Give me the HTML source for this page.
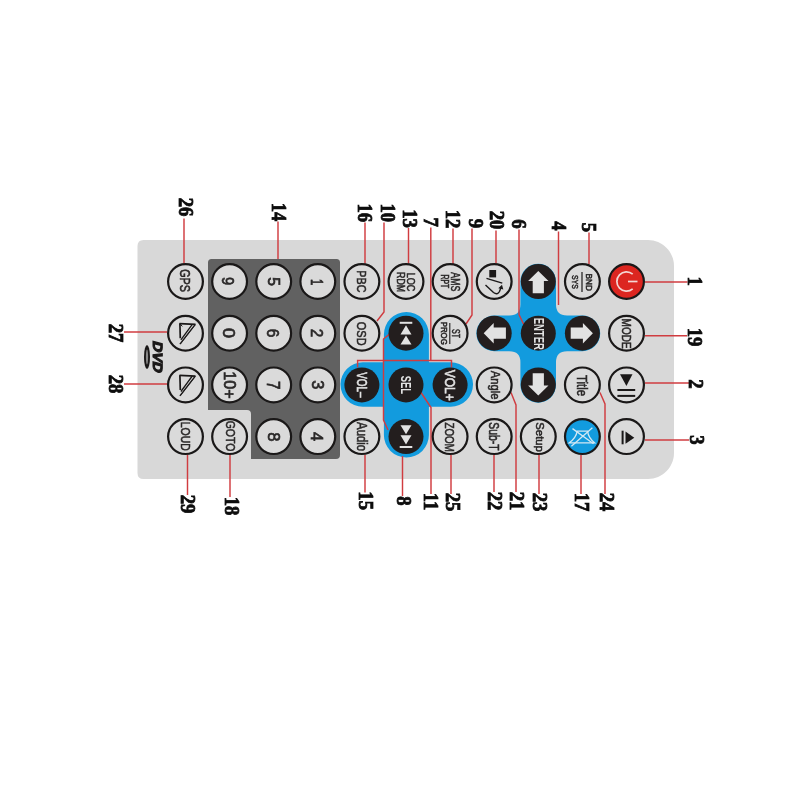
<!DOCTYPE html>
<html><head><meta charset="utf-8"><style>
html,body{margin:0;padding:0;background:#fff;width:800px;height:800px;overflow:hidden}
svg{display:block;will-change:transform}
</style></head><body>
<svg width="800" height="800" viewBox="0 0 800 800">
<path d="M143.5,240 L648,240 C662.3,240 674,251.7 674,266 L674,453 C674,467.3 662.3,479 648,479 L143.5,479 Q137.5,479 137.5,473 L137.5,246 Q137.5,240 143.5,240 Z" fill="#d8d8d8"/>
<path d="M211.5,259 L336.5,259 Q340,259 340,262.5 L340,455 Q340,459 336,459 L251,459 L251,414 Q251,410 247,410 L208,410 L208,262.5 Q208,259 211.5,259 Z" fill="#616161"/>
<path d="M383.9,334.5 A22.5,22.5 0 0 1 428.9,334.5 L428.9,362.25 L450.75,362.25 A22.25,22.25 0 0 1 450.75,406.75 L428.9,406.75 L428.9,435 A22.5,22.5 0 0 1 383.9,435 L383.9,406.75 L362.75,406.75 A22.25,22.25 0 0 1 362.75,362.25 L383.9,362.25 Z" fill="#129bde"/>
<path d="M520.4000000000001,281.5 A17.8,17.8 0 0 1 556.0,281.5 L556.0,304.59999999999997 Q556.0,315.59999999999997 567.0,315.59999999999997 L582.4000000000001,315.59999999999997 A17.8,17.8 0 0 1 582.4000000000001,351.2 L567.0,351.2 Q556.0,351.2 556.0,362.2 L556.0,384.9 A17.8,17.8 0 0 1 520.4000000000001,384.9 L520.4000000000001,362.2 Q520.4000000000001,351.2 509.4000000000001,351.2 L494.2,351.2 A17.8,17.8 0 0 1 494.2,315.59999999999997 L509.4000000000001,315.59999999999997 Q520.4000000000001,315.59999999999997 520.4000000000001,304.59999999999997 Z" fill="#129bde"/>
<path d="M184,218.5 L184,263.5" fill="none" stroke="#d03c40" stroke-width="1.45"/>
<path d="M278,221.5 L278,259" fill="none" stroke="#d03c40" stroke-width="1.45"/>
<path d="M365,222.5 L365,263.5" fill="none" stroke="#d03c40" stroke-width="1.45"/>
<path d="M384,222.5 L384,312 L377,321" fill="none" stroke="#d03c40" stroke-width="1.45"/>
<path d="M408.5,228 L408.5,263.5" fill="none" stroke="#d03c40" stroke-width="1.45"/>
<path d="M430.8,227.5 L430.8,360.5" fill="none" stroke="#d03c40" stroke-width="1.45"/>
<path d="M357.6,367.5 L357.6,360.5 L451.5,360.5 L451.5,367.5" fill="none" stroke="#d03c40" stroke-width="1.45"/>
<path d="M453,228.5 L453,264" fill="none" stroke="#d03c40" stroke-width="1.45"/>
<path d="M472,228.5 L472,315 L466,324" fill="none" stroke="#d03c40" stroke-width="1.45"/>
<path d="M496,230.5 L496,263.5" fill="none" stroke="#d03c40" stroke-width="1.45"/>
<path d="M519,229.5 L519,314.5 L524,325" fill="none" stroke="#d03c40" stroke-width="1.45"/>
<path d="M558.5,231.5 L558.5,305" fill="none" stroke="#d03c40" stroke-width="1.45"/>
<path d="M589,232.5 L589,264" fill="none" stroke="#d03c40" stroke-width="1.45"/>
<path d="M187.5,454.5 L187.5,495" fill="none" stroke="#d03c40" stroke-width="1.45"/>
<path d="M230,454 L230,497" fill="none" stroke="#d03c40" stroke-width="1.45"/>
<path d="M365,455 L365,492.5" fill="none" stroke="#d03c40" stroke-width="1.45"/>
<path d="M402.5,456 L402.5,496" fill="none" stroke="#d03c40" stroke-width="1.45"/>
<path d="M421,392.5 L431,407.5 L431,494" fill="none" stroke="#d03c40" stroke-width="1.45"/>
<path d="M451,455 L451,494" fill="none" stroke="#d03c40" stroke-width="1.45"/>
<path d="M494,455 L494,492" fill="none" stroke="#d03c40" stroke-width="1.45"/>
<path d="M511,392.5 L516,405 L516,492" fill="none" stroke="#d03c40" stroke-width="1.45"/>
<path d="M539,455 L539,494" fill="none" stroke="#d03c40" stroke-width="1.45"/>
<path d="M581,455 L581,494" fill="none" stroke="#d03c40" stroke-width="1.45"/>
<path d="M600,392.5 L605,404 L605,494" fill="none" stroke="#d03c40" stroke-width="1.45"/>
<path d="M124,332 L167,332" fill="none" stroke="#d03c40" stroke-width="1.45"/>
<path d="M124,384 L167,384" fill="none" stroke="#d03c40" stroke-width="1.45"/>
<path d="M645,282 L687.5,282" fill="none" stroke="#d03c40" stroke-width="1.45"/>
<path d="M645,335.75 L687,335.75" fill="none" stroke="#d03c40" stroke-width="1.45"/>
<path d="M645,383 L689,383" fill="none" stroke="#d03c40" stroke-width="1.45"/>
<path d="M645,440 L689,440" fill="none" stroke="#d03c40" stroke-width="1.45"/>
<path d="M390.3,333.4 L383.5,339 L383.5,420 L388,430" fill="none" stroke="#d03c40" stroke-width="1.45"/>
<circle cx="185.50" cy="281.50" r="17.4" fill="#dadada" stroke="#1a1818" stroke-width="2.2"/>
<circle cx="185.50" cy="333.20" r="17.4" fill="#dadada" stroke="#1a1818" stroke-width="2.2"/>
<circle cx="185.50" cy="384.90" r="17.4" fill="#dadada" stroke="#1a1818" stroke-width="2.2"/>
<circle cx="185.50" cy="436.60" r="17.4" fill="#dadada" stroke="#1a1818" stroke-width="2.2"/>
<circle cx="229.60" cy="281.50" r="17.4" fill="#dadada" stroke="#1a1818" stroke-width="2.2"/>
<circle cx="273.70" cy="281.50" r="17.4" fill="#dadada" stroke="#1a1818" stroke-width="2.2"/>
<circle cx="317.80" cy="281.50" r="17.4" fill="#dadada" stroke="#1a1818" stroke-width="2.2"/>
<circle cx="229.60" cy="333.20" r="17.4" fill="#dadada" stroke="#1a1818" stroke-width="2.2"/>
<circle cx="273.70" cy="333.20" r="17.4" fill="#dadada" stroke="#1a1818" stroke-width="2.2"/>
<circle cx="317.80" cy="333.20" r="17.4" fill="#dadada" stroke="#1a1818" stroke-width="2.2"/>
<circle cx="229.60" cy="384.90" r="17.4" fill="#dadada" stroke="#1a1818" stroke-width="2.2"/>
<circle cx="273.70" cy="384.90" r="17.4" fill="#dadada" stroke="#1a1818" stroke-width="2.2"/>
<circle cx="317.80" cy="384.90" r="17.4" fill="#dadada" stroke="#1a1818" stroke-width="2.2"/>
<circle cx="229.60" cy="436.60" r="17.4" fill="#dadada" stroke="#1a1818" stroke-width="2.2"/>
<circle cx="273.70" cy="436.60" r="17.4" fill="#dadada" stroke="#1a1818" stroke-width="2.2"/>
<circle cx="317.80" cy="436.60" r="17.4" fill="#dadada" stroke="#1a1818" stroke-width="2.2"/>
<circle cx="361.90" cy="281.50" r="17.4" fill="#dadada" stroke="#1a1818" stroke-width="2.2"/>
<circle cx="361.90" cy="333.20" r="17.4" fill="#dadada" stroke="#1a1818" stroke-width="2.2"/>
<circle cx="361.90" cy="436.60" r="17.4" fill="#dadada" stroke="#1a1818" stroke-width="2.2"/>
<circle cx="406.00" cy="281.50" r="17.4" fill="#dadada" stroke="#1a1818" stroke-width="2.2"/>
<circle cx="450.10" cy="281.50" r="17.4" fill="#dadada" stroke="#1a1818" stroke-width="2.2"/>
<circle cx="450.10" cy="333.20" r="17.4" fill="#dadada" stroke="#1a1818" stroke-width="2.2"/>
<circle cx="450.10" cy="436.60" r="17.4" fill="#dadada" stroke="#1a1818" stroke-width="2.2"/>
<circle cx="494.20" cy="281.50" r="17.4" fill="#dadada" stroke="#1a1818" stroke-width="2.2"/>
<circle cx="494.20" cy="384.90" r="17.4" fill="#dadada" stroke="#1a1818" stroke-width="2.2"/>
<circle cx="494.20" cy="436.60" r="17.4" fill="#dadada" stroke="#1a1818" stroke-width="2.2"/>
<circle cx="538.30" cy="436.60" r="17.4" fill="#dadada" stroke="#1a1818" stroke-width="2.2"/>
<circle cx="582.40" cy="281.50" r="17.4" fill="#dadada" stroke="#1a1818" stroke-width="2.2"/>
<circle cx="582.40" cy="384.90" r="17.4" fill="#dadada" stroke="#1a1818" stroke-width="2.2"/>
<circle cx="626.50" cy="333.20" r="17.4" fill="#dadada" stroke="#1a1818" stroke-width="2.2"/>
<circle cx="626.50" cy="384.90" r="17.4" fill="#dadada" stroke="#1a1818" stroke-width="2.2"/>
<circle cx="626.50" cy="436.60" r="17.4" fill="#dadada" stroke="#1a1818" stroke-width="2.2"/>
<circle cx="582.40" cy="436.60" r="17.4" fill="#129bde" stroke="#1a1818" stroke-width="2.2"/>
<circle cx="626.50" cy="281.50" r="17.4" fill="#dc2620" stroke="#1a1818" stroke-width="2.2"/>
<circle cx="406.00" cy="333.20" r="17.5" fill="#231e1e"/>
<circle cx="406.00" cy="384.90" r="17.5" fill="#231e1e"/>
<circle cx="406.00" cy="436.60" r="17.5" fill="#231e1e"/>
<circle cx="361.90" cy="384.90" r="17.5" fill="#231e1e"/>
<circle cx="450.10" cy="384.90" r="17.5" fill="#231e1e"/>
<circle cx="494.20" cy="333.20" r="17.5" fill="#231e1e"/>
<circle cx="538.30" cy="281.50" r="17.5" fill="#231e1e"/>
<circle cx="538.30" cy="333.20" r="17.5" fill="#231e1e"/>
<circle cx="538.30" cy="384.90" r="17.5" fill="#231e1e"/>
<circle cx="582.40" cy="333.20" r="17.5" fill="#231e1e"/>
<line x1="449.8" y1="323" x2="449.8" y2="344" stroke="#1a1818" stroke-width="1.1"/>
<line x1="582" y1="272" x2="582" y2="292" stroke="#1a1818" stroke-width="1.2"/>
<path d="M179.5,323.59999999999997 L195.5,324.4" stroke="#1a1818" stroke-width="1.7" fill="none"/>
<path d="M179.9,323.59999999999997 L180.3,338.2" stroke="#1a1818" stroke-width="1.7" fill="none"/>
<path d="M195.1,324.59999999999997 L179.9,344.2 M192.3,324.3 L180.9,339.8" stroke="#1a1818" stroke-width="1.35" fill="none"/>
<path d="M195.5,324.4 L180.5,344.0" stroke="#1a1818" stroke-width="0.6" fill="none"/>
<path d="M179.9,323.59999999999997 L182.3,326.4" stroke="#1a1818" stroke-width="1" fill="none"/>
<path d="M179.5,375.29999999999995 L195.5,376.09999999999997" stroke="#1a1818" stroke-width="1.7" fill="none"/>
<path d="M179.9,375.29999999999995 L180.3,389.9" stroke="#1a1818" stroke-width="1.7" fill="none"/>
<path d="M195.1,376.29999999999995 L179.9,395.9 M192.3,376.0 L180.9,391.5" stroke="#1a1818" stroke-width="1.35" fill="none"/>
<path d="M195.5,376.09999999999997 L180.5,395.7" stroke="#1a1818" stroke-width="0.6" fill="none"/>
<rect x="489.3" y="270" width="6.8" height="7.4" fill="#1a1818"/>
<path d="M486.5,278.4 L502.3,283.2" stroke="#1a1818" stroke-width="1.4"/>
<path d="M485.5,285 L493.5,292.5 Q497.5,295.5 499.5,291.5 L501,287.5" fill="none" stroke="#1a1818" stroke-width="1.4"/>
<path d="M498.3,288.2 L502,284.8 L503.3,289.6 Z" fill="#1a1818"/>
<path transform="translate(538.30,281.50) rotate(0)" d="M0,-10.5 L10.2,-0.5 L5.6,-0.5 L5.6,11.7 L-5.6,11.7 L-5.6,-0.5 L-10.2,-0.5 Z" fill="#e2e2e2"/>
<path transform="translate(538.30,384.90) rotate(180)" d="M0,-10.5 L10.2,-0.5 L5.6,-0.5 L5.6,11.7 L-5.6,11.7 L-5.6,-0.5 L-10.2,-0.5 Z" fill="#e2e2e2"/>
<path transform="translate(494.20,333.20) rotate(-90)" d="M0,-10.5 L10.2,-0.5 L5.6,-0.5 L5.6,11.7 L-5.6,11.7 L-5.6,-0.5 L-10.2,-0.5 Z" fill="#e2e2e2"/>
<path transform="translate(582.40,333.20) rotate(90)" d="M0,-10.5 L10.2,-0.5 L5.6,-0.5 L5.6,11.7 L-5.6,11.7 L-5.6,-0.5 L-10.2,-0.5 Z" fill="#e2e2e2"/>
<rect x="399.7" y="321.8" width="12.6" height="2" fill="#e2e2e2"/>
<path d="M406.0,325.2 L411.5,334.5 L400.5,334.5 Z M406.0,335.59999999999997 L411.5,344.5 L400.5,344.5 Z" fill="#e2e2e2"/>
<rect x="399.7" y="446.0" width="12.6" height="2" fill="#e2e2e2"/>
<path d="M406.0,444.6 L411.5,435.3 L400.5,435.3 Z M406.0,434.20000000000005 L411.5,425.3 L400.5,425.3 Z" fill="#e2e2e2"/>
<path d="M632.7,274.2 A9.6,9.6 0 1 0 632.7,288.8" fill="none" stroke="#f4d6d3" stroke-width="1.7"/>
<path d="M628.0,281.5 L637.5,281.5" stroke="#f4d6d3" stroke-width="1.7"/>
<path d="M620,374.3 L632.5,374.3 L626.4,385.9 Z" fill="#1a1818"/>
<rect x="617.4" y="389" width="17.8" height="2" fill="#1a1818"/><rect x="617.4" y="394.9" width="17.8" height="2" fill="#1a1818"/>
<path d="M625.5,431.4 L634.3,437.7 L625.5,443.8 Z" fill="#1a1818"/>
<rect x="621.6" y="430.7" width="2" height="13.6" fill="#1a1818"/>
<g stroke="#d2e8f3" stroke-width="1.3" fill="none"><path d="M572.5,428.6 L593.5,443.8 M592.4,427.8 L571.4,446.2"/><path d="M577.2,431.2 L587.5,431.2 Q588.5,438 594.5,442.8 L569.3,442.8 Q576,438 577.2,431.2 Z"/></g>
<text transform="translate(157.2,357.2) rotate(90) scale(1.1,1) skewX(-14)" text-anchor="middle" dominant-baseline="central" font-family="Liberation Sans" font-weight="bold" font-size="13.5" fill="#1a1818" stroke="#1a1818" stroke-width="1.1">DVD</text>
<ellipse cx="147" cy="357" rx="3" ry="12" fill="#1a1818"/>
<ellipse cx="147" cy="357" rx="1.1" ry="7.5" fill="#8a8a8a"/>
<text transform="translate(184.70,280.61) rotate(90) scale(0.752,1)" text-anchor="middle" dominant-baseline="central" font-family="Liberation Sans" font-size="14.46" font-weight="normal" fill="#2a2828" stroke="#2a2828" stroke-width="0.55">GPS</text>
<text transform="translate(185.05,436.26) rotate(90) scale(0.806,1)" text-anchor="middle" dominant-baseline="central" font-family="Liberation Sans" font-size="13.08" font-weight="normal" fill="#2a2828" stroke="#2a2828" stroke-width="0.55">LOUD</text>
<text transform="translate(228.81,281.03) rotate(90) scale(0.844,1)" text-anchor="middle" dominant-baseline="central" font-family="Liberation Sans" font-size="17.41" font-weight="normal" fill="#2a2828" stroke="#2a2828" stroke-width="0.7">9</text>
<text transform="translate(273.88,281.75) rotate(90) scale(0.920,1)" text-anchor="middle" dominant-baseline="central" font-family="Liberation Sans" font-size="17.16" font-weight="normal" fill="#2a2828" stroke="#2a2828" stroke-width="0.7">5</text>
<text transform="translate(317.36,282.20) rotate(90) scale(0.662,1)" text-anchor="middle" dominant-baseline="central" font-family="Liberation Sans" font-size="16.94" font-weight="normal" fill="#2a2828" stroke="#2a2828" stroke-width="0.7">1</text>
<text transform="translate(228.81,333.16) rotate(90) scale(1.042,1)" text-anchor="middle" dominant-baseline="central" font-family="Liberation Sans" font-size="17.41" font-weight="normal" fill="#2a2828" stroke="#2a2828" stroke-width="0.7">0</text>
<text transform="translate(273.08,332.88) rotate(90) scale(0.890,1)" text-anchor="middle" dominant-baseline="central" font-family="Liberation Sans" font-size="17.16" font-weight="normal" fill="#2a2828" stroke="#2a2828" stroke-width="0.7">6</text>
<text transform="translate(317.24,332.88) rotate(90) scale(0.889,1)" text-anchor="middle" dominant-baseline="central" font-family="Liberation Sans" font-size="17.16" font-weight="normal" fill="#2a2828" stroke="#2a2828" stroke-width="0.7">2</text>
<text transform="translate(229.70,384.88) rotate(90) scale(0.949,1)" text-anchor="middle" dominant-baseline="central" font-family="Liberation Sans" font-size="17.05" font-weight="normal" fill="#2a2828" stroke="#2a2828" stroke-width="0.7">10+</text>
<text transform="translate(273.08,385.08) rotate(90) scale(0.839,1)" text-anchor="middle" dominant-baseline="central" font-family="Liberation Sans" font-size="18.01" font-weight="normal" fill="#2a2828" stroke="#2a2828" stroke-width="0.7">7</text>
<text transform="translate(317.24,384.83) rotate(90) scale(0.955,1)" text-anchor="middle" dominant-baseline="central" font-family="Liberation Sans" font-size="17.16" font-weight="normal" fill="#2a2828" stroke="#2a2828" stroke-width="0.7">3</text>
<text transform="translate(273.08,436.93) rotate(90) scale(0.974,1)" text-anchor="middle" dominant-baseline="central" font-family="Liberation Sans" font-size="17.16" font-weight="normal" fill="#2a2828" stroke="#2a2828" stroke-width="0.7">8</text>
<text transform="translate(317.00,436.65) rotate(90) scale(0.980,1)" text-anchor="middle" dominant-baseline="central" font-family="Liberation Sans" font-size="16.78" font-weight="normal" fill="#2a2828" stroke="#2a2828" stroke-width="0.7">4</text>
<text transform="translate(230.40,436.00) rotate(90) scale(0.857,1)" text-anchor="middle" dominant-baseline="central" font-family="Liberation Sans" font-size="12.21" font-weight="normal" fill="#2a2828" stroke="#2a2828" stroke-width="0.55">GOTO</text>
<text transform="translate(361.25,281.33) rotate(90) scale(0.826,1)" text-anchor="middle" dominant-baseline="central" font-family="Liberation Sans" font-size="13.02" font-weight="normal" fill="#2a2828" stroke="#2a2828" stroke-width="0.55">PBC</text>
<text transform="translate(361.26,333.67) rotate(90) scale(0.804,1)" text-anchor="middle" dominant-baseline="central" font-family="Liberation Sans" font-size="13.67" font-weight="normal" fill="#2a2828" stroke="#2a2828" stroke-width="0.55">OSD</text>
<text transform="translate(410.83,282.06) rotate(90) scale(0.901,1)" text-anchor="middle" dominant-baseline="central" font-family="Liberation Sans" font-size="10.01" font-weight="normal" fill="#2a2828" stroke="#2a2828" stroke-width="0.55">LOC</text>
<text transform="translate(400.67,282.11) rotate(90) scale(0.833,1)" text-anchor="middle" dominant-baseline="central" font-family="Liberation Sans" font-size="10.58" font-weight="normal" fill="#2a2828" stroke="#2a2828" stroke-width="0.55">RDM</text>
<text transform="translate(455.61,281.84) rotate(90) scale(0.707,1)" text-anchor="middle" dominant-baseline="central" font-family="Liberation Sans" font-size="12.44" font-weight="normal" fill="#2a2828" stroke="#2a2828" stroke-width="0.55">AMS</text>
<text transform="translate(445.00,281.32) rotate(90) scale(0.671,1)" text-anchor="middle" dominant-baseline="central" font-family="Liberation Sans" font-size="10.17" font-weight="normal" fill="#2a2828" stroke="#2a2828" stroke-width="0.55">RPT</text>
<text transform="translate(455.50,333.53) rotate(90) scale(0.653,1)" text-anchor="middle" dominant-baseline="central" font-family="Liberation Sans" font-size="10.58" font-weight="normal" fill="#2a2828" stroke="#2a2828" stroke-width="0.55">ST</text>
<text transform="translate(444.44,333.22) rotate(90) scale(0.900,1)" text-anchor="middle" dominant-baseline="central" font-family="Liberation Sans" font-size="8.73" font-weight="normal" fill="#2a2828" stroke="#2a2828" stroke-width="0.55">PROG</text>
<text transform="translate(361.95,436.61) rotate(90) scale(0.818,1)" text-anchor="middle" dominant-baseline="central" font-family="Liberation Sans" font-size="13.95" font-weight="normal" fill="#2a2828" stroke="#2a2828" stroke-width="0.55">Audio</text>
<text transform="translate(450.11,437.12) rotate(90) scale(0.743,1)" text-anchor="middle" dominant-baseline="central" font-family="Liberation Sans" font-size="13.17" font-weight="normal" fill="#2a2828" stroke="#2a2828" stroke-width="0.55">ZOOM</text>
<text transform="translate(495.26,385.12) rotate(90) scale(0.897,1)" text-anchor="middle" dominant-baseline="central" font-family="Liberation Sans" font-size="12.43" font-weight="normal" fill="#2a2828" stroke="#2a2828" stroke-width="0.55">Angle</text>
<text transform="translate(493.17,436.38) rotate(90) scale(0.741,1)" text-anchor="middle" dominant-baseline="central" font-family="Liberation Sans" font-size="13.95" font-weight="normal" fill="#2a2828" stroke="#2a2828" stroke-width="0.55">Sub-T</text>
<text transform="translate(539.82,437.12) rotate(90) scale(1.006,1)" text-anchor="middle" dominant-baseline="central" font-family="Liberation Sans" font-size="11.27" font-weight="normal" fill="#2a2828" stroke="#2a2828" stroke-width="0.55">Setup</text>
<text transform="translate(582.05,385.56) rotate(90) scale(0.818,1)" text-anchor="middle" dominant-baseline="central" font-family="Liberation Sans" font-size="13.95" font-weight="normal" fill="#2a2828" stroke="#2a2828" stroke-width="0.55">Title</text>
<text transform="translate(626.45,333.60) rotate(90) scale(0.840,1)" text-anchor="middle" dominant-baseline="central" font-family="Liberation Sans" font-size="11.97" font-weight="normal" fill="#2a2828" stroke="#2a2828" stroke-width="0.55">MODE</text>
<text transform="translate(588.95,282.27) rotate(90) scale(0.922,1)" text-anchor="middle" dominant-baseline="central" font-family="Liberation Sans" font-size="9.02" font-weight="normal" fill="#2a2828" stroke="#2a2828" stroke-width="0.55">BND</text>
<text transform="translate(575.92,282.00) rotate(90) scale(0.693,1)" text-anchor="middle" dominant-baseline="central" font-family="Liberation Sans" font-size="9.95" font-weight="normal" fill="#2a2828" stroke="#2a2828" stroke-width="0.55">SYS</text>
<text transform="translate(361.99,384.86) rotate(90) scale(0.707,1)" text-anchor="middle" dominant-baseline="central" font-family="Liberation Sans" font-size="13.91" font-weight="normal" fill="#e2e2e2" stroke="#e2e2e2" stroke-width="0.6">VOL&#8211;</text>
<text transform="translate(405.96,384.79) rotate(90) scale(0.636,1)" text-anchor="middle" dominant-baseline="central" font-family="Liberation Sans" font-size="14.82" font-weight="bold" fill="#e2e2e2">SEL</text>
<text transform="translate(450.01,385.26) rotate(90) scale(0.824,1)" text-anchor="middle" dominant-baseline="central" font-family="Liberation Sans" font-size="14.61" font-weight="normal" fill="#e2e2e2" stroke="#e2e2e2" stroke-width="0.6">VOL+</text>
<text transform="translate(538.66,333.74) rotate(90) scale(0.680,1)" text-anchor="middle" dominant-baseline="central" font-family="Liberation Sans" font-size="13.99" font-weight="bold" fill="#e2e2e2">ENTER</text>
<text transform="translate(186.22,207.05) rotate(90) scale(0.920,1)" text-anchor="middle" dominant-baseline="central" font-family="Liberation Serif" font-size="20.30" font-weight="bold" fill="#0d0d0d" stroke="#0d0d0d" stroke-width="0.8">26</text>
<text transform="translate(278.90,212.10) rotate(90) scale(0.920,1)" text-anchor="middle" dominant-baseline="central" font-family="Liberation Serif" font-size="20.30" font-weight="bold" fill="#0d0d0d" stroke="#0d0d0d" stroke-width="0.8">14</text>
<text transform="translate(364.98,212.77) rotate(90) scale(0.920,1)" text-anchor="middle" dominant-baseline="central" font-family="Liberation Serif" font-size="20.30" font-weight="bold" fill="#0d0d0d" stroke="#0d0d0d" stroke-width="0.8">16</text>
<text transform="translate(387.64,212.79) rotate(90) scale(0.920,1)" text-anchor="middle" dominant-baseline="central" font-family="Liberation Serif" font-size="20.30" font-weight="bold" fill="#0d0d0d" stroke="#0d0d0d" stroke-width="0.8">10</text>
<text transform="translate(410.17,218.53) rotate(90) scale(0.920,1)" text-anchor="middle" dominant-baseline="central" font-family="Liberation Serif" font-size="20.30" font-weight="bold" fill="#0d0d0d" stroke="#0d0d0d" stroke-width="0.8">13</text>
<text transform="translate(431.17,222.17) rotate(90) scale(0.920,1)" text-anchor="middle" dominant-baseline="central" font-family="Liberation Serif" font-size="20.30" font-weight="bold" fill="#0d0d0d" stroke="#0d0d0d" stroke-width="0.8">7</text>
<text transform="translate(452.96,219.12) rotate(90) scale(0.920,1)" text-anchor="middle" dominant-baseline="central" font-family="Liberation Serif" font-size="20.30" font-weight="bold" fill="#0d0d0d" stroke="#0d0d0d" stroke-width="0.8">12</text>
<text transform="translate(475.50,223.42) rotate(90) scale(0.920,1)" text-anchor="middle" dominant-baseline="central" font-family="Liberation Serif" font-size="20.30" font-weight="bold" fill="#0d0d0d" stroke="#0d0d0d" stroke-width="0.8">9</text>
<text transform="translate(496.50,220.10) rotate(90) scale(0.920,1)" text-anchor="middle" dominant-baseline="central" font-family="Liberation Serif" font-size="20.30" font-weight="bold" fill="#0d0d0d" stroke="#0d0d0d" stroke-width="0.8">20</text>
<text transform="translate(519.15,224.00) rotate(90) scale(0.920,1)" text-anchor="middle" dominant-baseline="central" font-family="Liberation Serif" font-size="20.30" font-weight="bold" fill="#0d0d0d" stroke="#0d0d0d" stroke-width="0.8">6</text>
<text transform="translate(558.50,226.00) rotate(90) scale(0.920,1)" text-anchor="middle" dominant-baseline="central" font-family="Liberation Serif" font-size="20.30" font-weight="bold" fill="#0d0d0d" stroke="#0d0d0d" stroke-width="0.8">4</text>
<text transform="translate(588.50,227.40) rotate(90) scale(0.920,1)" text-anchor="middle" dominant-baseline="central" font-family="Liberation Serif" font-size="20.30" font-weight="bold" fill="#0d0d0d" stroke="#0d0d0d" stroke-width="0.8">5</text>
<text transform="translate(187.60,504.10) rotate(90) scale(0.920,1)" text-anchor="middle" dominant-baseline="central" font-family="Liberation Serif" font-size="20.30" font-weight="bold" fill="#0d0d0d" stroke="#0d0d0d" stroke-width="0.8">29</text>
<text transform="translate(231.50,506.10) rotate(90) scale(0.920,1)" text-anchor="middle" dominant-baseline="central" font-family="Liberation Serif" font-size="20.30" font-weight="bold" fill="#0d0d0d" stroke="#0d0d0d" stroke-width="0.8">18</text>
<text transform="translate(365.55,500.65) rotate(90) scale(0.920,1)" text-anchor="middle" dominant-baseline="central" font-family="Liberation Serif" font-size="20.30" font-weight="bold" fill="#0d0d0d" stroke="#0d0d0d" stroke-width="0.8">15</text>
<text transform="translate(404.00,501.00) rotate(90) scale(0.920,1)" text-anchor="middle" dominant-baseline="central" font-family="Liberation Serif" font-size="20.30" font-weight="bold" fill="#0d0d0d" stroke="#0d0d0d" stroke-width="0.8">8</text>
<text transform="translate(430.55,501.60) rotate(90) scale(0.920,1)" text-anchor="middle" dominant-baseline="central" font-family="Liberation Serif" font-size="20.30" font-weight="bold" fill="#0d0d0d" stroke="#0d0d0d" stroke-width="0.8">11</text>
<text transform="translate(452.50,502.00) rotate(90) scale(0.920,1)" text-anchor="middle" dominant-baseline="central" font-family="Liberation Serif" font-size="20.30" font-weight="bold" fill="#0d0d0d" stroke="#0d0d0d" stroke-width="0.8">25</text>
<text transform="translate(494.60,501.00) rotate(90) scale(0.920,1)" text-anchor="middle" dominant-baseline="central" font-family="Liberation Serif" font-size="20.30" font-weight="bold" fill="#0d0d0d" stroke="#0d0d0d" stroke-width="0.8">22</text>
<text transform="translate(516.50,501.00) rotate(90) scale(0.920,1)" text-anchor="middle" dominant-baseline="central" font-family="Liberation Serif" font-size="20.30" font-weight="bold" fill="#0d0d0d" stroke="#0d0d0d" stroke-width="0.8">21</text>
<text transform="translate(539.45,502.10) rotate(90) scale(0.920,1)" text-anchor="middle" dominant-baseline="central" font-family="Liberation Serif" font-size="20.30" font-weight="bold" fill="#0d0d0d" stroke="#0d0d0d" stroke-width="0.8">23</text>
<text transform="translate(581.60,502.10) rotate(90) scale(0.920,1)" text-anchor="middle" dominant-baseline="central" font-family="Liberation Serif" font-size="20.30" font-weight="bold" fill="#0d0d0d" stroke="#0d0d0d" stroke-width="0.8">17</text>
<text transform="translate(607.00,502.10) rotate(90) scale(0.920,1)" text-anchor="middle" dominant-baseline="central" font-family="Liberation Serif" font-size="20.30" font-weight="bold" fill="#0d0d0d" stroke="#0d0d0d" stroke-width="0.8">24</text>
<text transform="translate(115.50,333.00) rotate(90) scale(0.920,1)" text-anchor="middle" dominant-baseline="central" font-family="Liberation Serif" font-size="20.30" font-weight="bold" fill="#0d0d0d" stroke="#0d0d0d" stroke-width="0.8">27</text>
<text transform="translate(115.50,384.10) rotate(90) scale(0.920,1)" text-anchor="middle" dominant-baseline="central" font-family="Liberation Serif" font-size="20.30" font-weight="bold" fill="#0d0d0d" stroke="#0d0d0d" stroke-width="0.8">28</text>
<text transform="translate(694.60,281.05) rotate(90) scale(0.920,1)" text-anchor="middle" dominant-baseline="central" font-family="Liberation Serif" font-size="20.30" font-weight="bold" fill="#0d0d0d" stroke="#0d0d0d" stroke-width="0.8">1</text>
<text transform="translate(694.60,337.10) rotate(90) scale(0.920,1)" text-anchor="middle" dominant-baseline="central" font-family="Liberation Serif" font-size="20.30" font-weight="bold" fill="#0d0d0d" stroke="#0d0d0d" stroke-width="0.8">19</text>
<text transform="translate(695.55,384.00) rotate(90) scale(0.920,1)" text-anchor="middle" dominant-baseline="central" font-family="Liberation Serif" font-size="20.30" font-weight="bold" fill="#0d0d0d" stroke="#0d0d0d" stroke-width="0.8">2</text>
<text transform="translate(696.50,440.00) rotate(90) scale(0.920,1)" text-anchor="middle" dominant-baseline="central" font-family="Liberation Serif" font-size="20.30" font-weight="bold" fill="#0d0d0d" stroke="#0d0d0d" stroke-width="0.8">3</text>
</svg>
</body></html>
